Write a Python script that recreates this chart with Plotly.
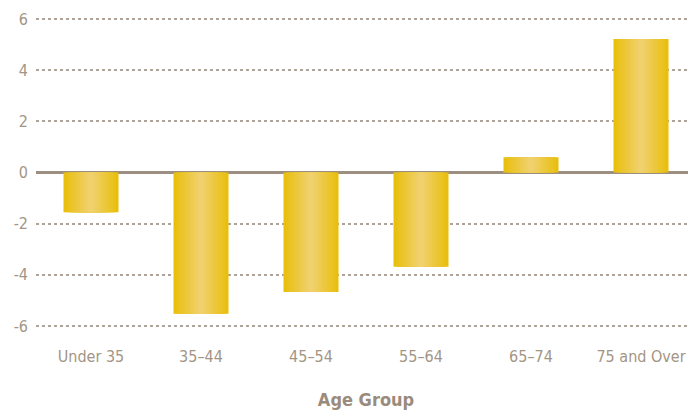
import plotly.graph_objects as go

age_groups = ['Under 35', '35–44', '45–54', '55–64', '65–74', '75 and Over']
change = [-1.56, -5.52, -4.67, -3.69, 0.59, 5.22]
y_ticks = [-6, -4, -2, 0, 2, 4, 6]
y_labels = ['-6', '-4', '-2', '0', '2', '4', '6']

edge = (233, 191, 14)
center = (240, 209, 110)
steps = 10
bar_width = 0.5

fig = go.Figure()
# fake a horizontal gradient by stacking narrower, lighter bars on top of each other
for k in range(steps):
    t = k / (steps - 1)
    col = tuple(round(edge[i] + (center[i] - edge[i]) * t) for i in range(3))
    fig.add_trace(go.Bar(x=age_groups, y=change, width=bar_width * (1 - k / steps),
                         marker=dict(color='rgb(%d,%d,%d)' % col, line=dict(width=0)),
                         showlegend=False, hoverinfo='skip'))

font = "DejaVu Sans Condensed, Liberation Sans Narrow, sans-serif"

# page body adds an 8px offset, so the figure is sized 8px smaller
fig.update_layout(
    barmode='overlay',
    width=688, height=402,
    margin=dict(l=28, r=0, t=2, b=70),
    plot_bgcolor='white', paper_bgcolor='white',
    font=dict(family=font, color='#a39585', size=16),
)
fig.update_xaxes(
    showgrid=False, showline=False, ticks='', ticklabelstandoff=5,
    tickfont=dict(size=16, color='#a39585'),
    title=dict(text='<b>Age Group</b>', font=dict(size=18, color='#9a8b7c'), standoff=30),
)
fig.update_yaxes(
    range=[-6.55, 6.35], tickvals=y_ticks, ticktext=y_labels,
    showgrid=True, gridcolor='#aea398', gridwidth=1.5, griddash='dot',
    zeroline=True, zerolinecolor='#9c8f81', zerolinewidth=3,
    showline=False, ticks='', ticklabelstandoff=7,
    tickfont=dict(size=16, color='#a39585'),
)

fig.write_html("out.html")
